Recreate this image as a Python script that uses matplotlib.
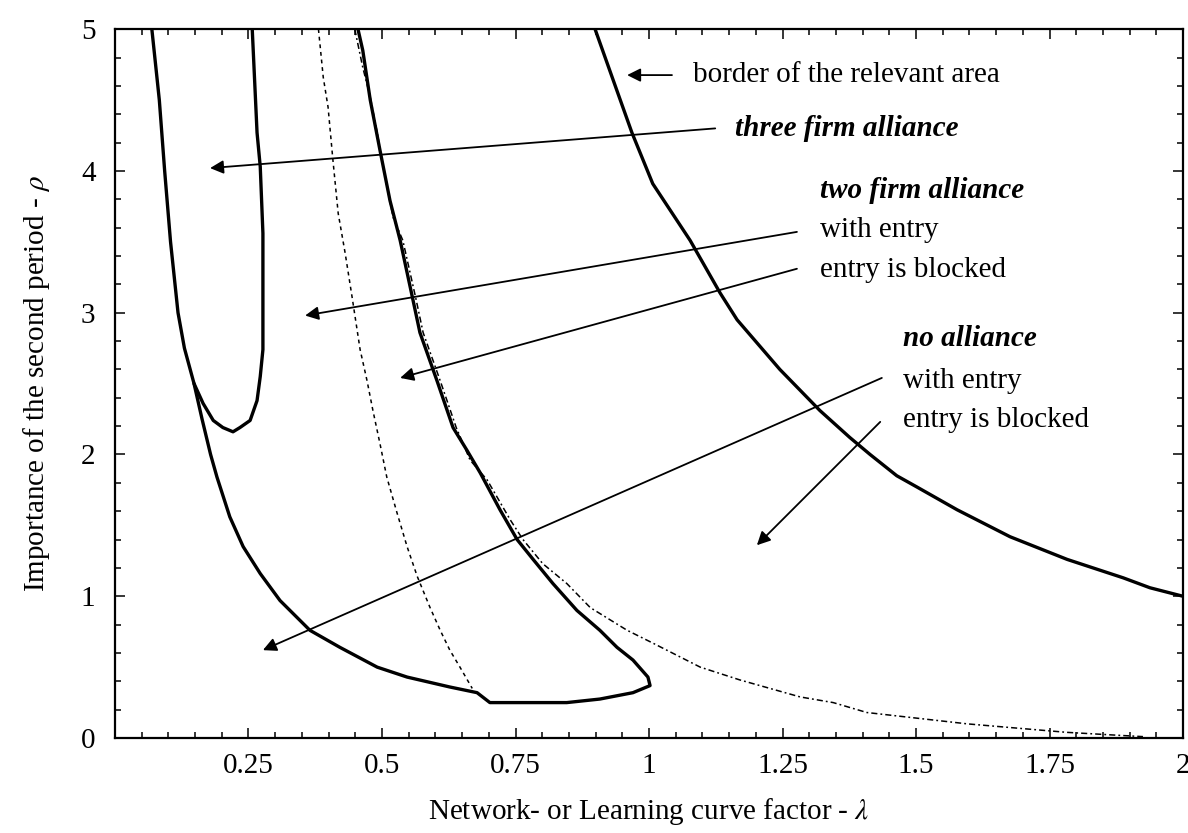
import numpy as np
import matplotlib
matplotlib.use("Agg")
from matplotlib import pyplot as plt
from matplotlib.ticker import MultipleLocator

plt.rcParams['font.family'] = ['Liberation Serif', 'DejaVu Serif']
plt.rcParams['mathtext.fontset'] = 'stix'

# outer solid curve (down the left side, along the bottom, back up)
outer_x = [0.069, 0.076, 0.083, 0.093, 0.104, 0.118, 0.130, 0.148, 0.163, 0.179,
           0.191, 0.215, 0.240, 0.272, 0.309, 0.365, 0.421, 0.491, 0.547, 0.627,
           0.678, 0.702, 0.846, 0.908, 0.970, 1.002, 0.998, 0.970, 0.940, 0.908,
           0.865, 0.820, 0.783, 0.753, 0.721, 0.684, 0.659, 0.633, 0.603, 0.571,
           0.558, 0.534, 0.515, 0.496, 0.478, 0.464, 0.455]
outer_y = [5.00, 4.75, 4.50, 4.00, 3.50, 3.00, 2.75, 2.50, 2.25, 2.00,
           1.84, 1.56, 1.35, 1.16, 0.97, 0.76, 0.64, 0.50, 0.43, 0.36,
           0.32, 0.25, 0.25, 0.275, 0.32, 0.37, 0.43, 0.55, 0.64, 0.76,
           0.90, 1.09, 1.26, 1.40, 1.61, 1.87, 2.03, 2.19, 2.52, 2.86,
           3.09, 3.51, 3.79, 4.15, 4.50, 4.85, 5.00]

# three firm alliance region (U shape)
u_x = [0.257, 0.266, 0.272, 0.277, 0.277, 0.277, 0.272, 0.266, 0.253, 0.234,
       0.221, 0.202, 0.184, 0.165, 0.148]
u_y = [5.00, 4.27, 4.03, 3.56, 3.09, 2.74, 2.55, 2.38, 2.24, 2.19,
       2.16, 2.19, 2.24, 2.36, 2.50]

# dotted boundary (left)
dot1_x = [0.381, 0.390, 0.399, 0.408, 0.418, 0.431, 0.444, 0.459, 0.472, 0.483,
          0.496, 0.509, 0.528, 0.547, 0.566, 0.590, 0.609, 0.627, 0.646, 0.669]
dot1_y = [5.00, 4.66, 4.45, 4.08, 3.70, 3.42, 3.11, 2.74, 2.52, 2.31,
          2.08, 1.84, 1.59, 1.35, 1.14, 0.92, 0.76, 0.62, 0.50, 0.35]

# dash-dot boundary (right)
dot2_x = [0.449, 0.464, 0.478, 0.491, 0.502, 0.521, 0.539, 0.564, 0.577, 0.609,
          0.639, 0.665, 0.697, 0.740, 0.764, 0.801, 0.846, 0.890, 0.959, 1.007,
          1.096, 1.170, 1.283, 1.345, 1.408, 1.502, 1.596, 1.689, 1.783, 1.876, 1.925]
dot2_y = [5.00, 4.73, 4.52, 4.27, 4.03, 3.67, 3.51, 3.09, 2.86, 2.52,
          2.19, 1.96, 1.82, 1.54, 1.40, 1.23, 1.09, 0.92, 0.76, 0.67,
          0.50, 0.41, 0.29, 0.25, 0.18, 0.14, 0.10, 0.07, 0.04, 0.02, 0.01]

# border of the relevant area
border_x = [0.899, 0.933, 0.968, 1.007, 1.077, 1.133, 1.165, 1.245, 1.320, 1.376,
            1.414, 1.464, 1.502, 1.577, 1.676, 1.783, 1.888, 1.938, 2.000]
border_y = [5.00, 4.64, 4.27, 3.91, 3.51, 3.14, 2.95, 2.60, 2.31, 2.12,
            2.00, 1.85, 1.77, 1.61, 1.42, 1.26, 1.13, 1.06, 1.00]

xtick_vals = [0.25, 0.5, 0.75, 1, 1.25, 1.5, 1.75, 2]
xtick_labels = ['0.25', '0.5', '0.75', '1', '1.25', '1.5', '1.75', '2']

fig = plt.figure(figsize=(11.88, 8.33), dpi=100)
ax = fig.add_axes([0.0968, 0.114, 0.8990, 0.851])

solid = dict(color='k', lw=2.4, solid_joinstyle='round', solid_capstyle='round')
ax.plot(outer_x, outer_y, **solid)
ax.plot(u_x, u_y, **solid)
ax.plot(border_x, border_y, **solid)
ax.plot(dot1_x, dot1_y, color='k', lw=1.1, linestyle=(0, (2.5, 2.5)))
ax.plot(dot2_x, dot2_y, color='k', lw=1.1, linestyle=(0, (4, 2, 1.2, 2)))

arrow = dict(arrowstyle='-|>', mutation_scale=20, lw=1.3, color='k',
             shrinkA=0, shrinkB=0)

def arr(tail, head):
    ax.annotate('', xy=head, xytext=tail, arrowprops=arrow)

arr((1.043, 4.676), (0.959, 4.676))
arr((1.124, 4.30), (0.178, 4.02))
arr((1.277, 3.57), (0.356, 2.98))
arr((1.277, 3.31), (0.534, 2.54))
arr((1.436, 2.54), (0.277, 0.62))
arr((1.433, 2.23), (1.202, 1.36))

fs = 21
ax.text(1.082, 4.676, 'border of the relevant area', fontsize=fs, va='center')
ax.text(1.161, 4.30, 'three firm alliance', fontsize=fs, va='center',
        fontweight='bold', fontstyle='italic')
ax.text(1.320, 3.86, 'two firm alliance', fontsize=fs, va='center',
        fontweight='bold', fontstyle='italic')
ax.text(1.320, 3.58, 'with entry', fontsize=fs, va='center')
ax.text(1.320, 3.30, 'entry is blocked', fontsize=fs, va='center')
ax.text(1.476, 2.82, 'no alliance', fontsize=fs, va='center',
        fontweight='bold', fontstyle='italic')
ax.text(1.476, 2.52, 'with entry', fontsize=fs, va='center')
ax.text(1.476, 2.24, 'entry is blocked', fontsize=fs, va='center')

ax.set_xlim(0, 2)
ax.set_ylim(0, 5)
ax.set_xticks(xtick_vals)
ax.set_xticklabels(xtick_labels)
ax.set_yticks([0, 1, 2, 3, 4, 5])
ax.xaxis.set_minor_locator(MultipleLocator(0.05))
ax.yaxis.set_minor_locator(MultipleLocator(0.2))
ax.tick_params(which='both', direction='in', top=True, right=True,
               labelsize=21, width=1.1)
ax.tick_params(axis='x', which='major', length=7, pad=11)
ax.tick_params(axis='y', which='major', length=7, pad=14)
ax.tick_params(which='minor', length=4)
for s in ax.spines.values():
    s.set_linewidth(1.6)

ax.set_xlabel(r'Network- or Learning curve factor - $\lambda$', fontsize=21, labelpad=12)
ax.set_ylabel(r'Importance of the second period - $\rho$', fontsize=21, labelpad=21)

fig.savefig('out.png', dpi=100)
